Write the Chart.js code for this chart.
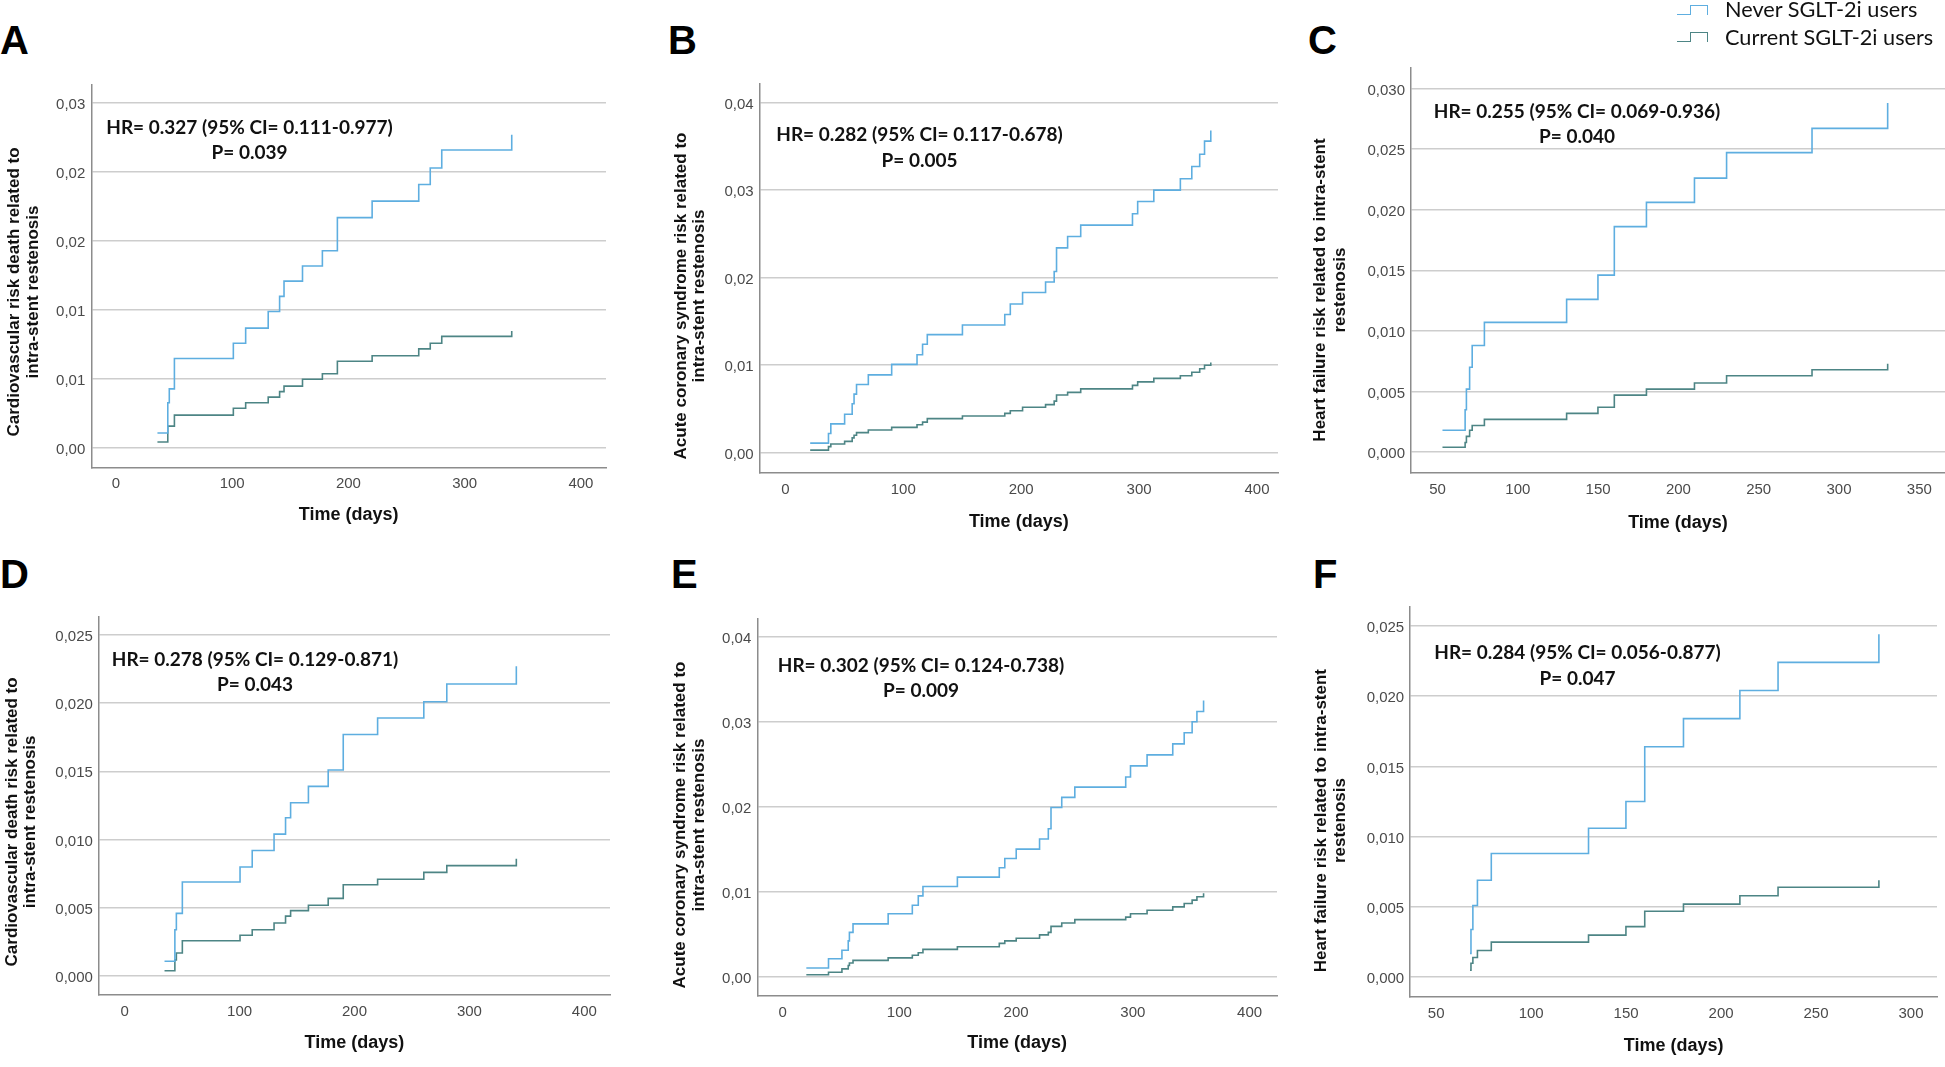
<!DOCTYPE html>
<html>
<head>
<meta charset="utf-8">
<title>SGLT-2i cumulative risk curves</title>
<script src="https://cdn.jsdelivr.net/npm/chart.js@4.4.1/dist/chart.umd.min.js"></script>
<style>
  html, body { margin: 0; padding: 0; background: #fff; }
  #page { position: relative; width: 1945px; height: 1067px; overflow: hidden; }
  canvas { position: absolute; }
  .letter { position: absolute; font: bold 40px "Liberation Sans", Arial, sans-serif; color: #000; line-height: 1; }
  #legend { position: absolute; left: 1677px; top: 0; font: 21.7px/26px Lato, sans-serif; color: #111; }
  .leg-item { position: absolute; left: 0; white-space: nowrap; }
  .leg-icon { position: absolute; left: 0; width: 30px; height: 10px; }
  .leg-icon .lo { position: absolute; left: 0; bottom: 0; width: 13px; border-bottom: 1.5px solid; }
  .leg-icon .hi { position: absolute; left: 13px; top: 0; width: 16px; height: 9px; border: 1.5px solid; border-bottom: none; }
  .leg-text { position: absolute; left: 48px; top: 0; }
</style>
</head>
<body>
<div id="page"></div>
<script>
// Cumulative risk (1 - KM) curves, never vs current SGLT-2i users

const SERIES_NAMES = ['Never SGLT-2i users', 'Current SGLT-2i users'];
const NEVER_COLOR = '#5eaee0';
const CURRENT_COLOR = '#4d8585';

// A — cardiovascular death risk
const timesA = [35.7, 44.6, 45.9, 50.3, 101.0, 111.6, 131.0, 140.8, 144.6, 160.5, 177.6, 190.5, 220.4, 260.5, 270.4, 280.3, 340.5];
const neverA = [0.0011, 0.0033, 0.0043, 0.0065, 0.0076, 0.0087, 0.0099, 0.0110, 0.0121, 0.0132, 0.0143, 0.0167, 0.0179, 0.0191, 0.0203, 0.0216, 0.0227];
const currentA = [0.00045, 0.0016, 0.0016, 0.0024, 0.0029, 0.0033, 0.0037, 0.0041, 0.0045, 0.0050, 0.0054, 0.0063, 0.0067, 0.0072, 0.0076, 0.0081, 0.0085];

// B — acute coronary syndrome risk
const timesB = [21.1, 36.6, 38.6, 50.3, 56.7, 58.3, 60.4, 70.4, 90.2, 111.7, 116.4, 120.4, 150.2, 186.1, 190.8, 201.2, 220.7, 228.0, 230.0, 239.4, 250.5, 294.4, 298.8, 312.5, 335.0, 344.7, 351.4, 355.5, 360.8];
const neverB = [0.0011, 0.0022, 0.0033, 0.0044, 0.0056, 0.0067, 0.0078, 0.0089, 0.0101, 0.0112, 0.0124, 0.0135, 0.0146, 0.0158, 0.0170, 0.0183, 0.0195, 0.0207, 0.0234, 0.0247, 0.0260, 0.0273, 0.0287, 0.0300, 0.0313, 0.0327, 0.0341, 0.0356, 0.0368];
const currentB = [0.0003, 0.0007, 0.0010, 0.0013, 0.0017, 0.0020, 0.0023, 0.0026, 0.0029, 0.0032, 0.0035, 0.0039, 0.0042, 0.0045, 0.0048, 0.0052, 0.0055, 0.0059, 0.0066, 0.0069, 0.0073, 0.0077, 0.0081, 0.0085, 0.0088, 0.0092, 0.0096, 0.0100, 0.0103];

// C — heart failure risk
const timesC = [53.1, 67.2, 68.0, 70.0, 71.6, 79.2, 130.4, 149.9, 160.1, 180.1, 210.0, 230.0, 283.2, 330.3];
const neverC = [0.0018, 0.0035, 0.0052, 0.0070, 0.0088, 0.0107, 0.0126, 0.0146, 0.0186, 0.0206, 0.0226, 0.0247, 0.0267, 0.0288];
const currentC = [0.0004, 0.0008, 0.0013, 0.0018, 0.0022, 0.0027, 0.0032, 0.0037, 0.0047, 0.0052, 0.0057, 0.0063, 0.0068, 0.0073];

// D — cardiovascular death risk (second cohort)
const timesD = [34.7, 43.7, 45.0, 50.2, 100.4, 111.0, 130.0, 140.0, 144.4, 159.9, 177.1, 190.2, 220.1, 260.3, 280.3, 340.8];
const neverD = [0.0011, 0.0034, 0.0046, 0.0069, 0.0080, 0.0092, 0.0104, 0.0116, 0.0127, 0.0139, 0.0151, 0.0177, 0.0189, 0.0201, 0.0214, 0.0227];
const currentD = [0.0004, 0.0012, 0.0017, 0.0026, 0.0030, 0.0034, 0.0039, 0.0044, 0.0048, 0.0052, 0.0057, 0.0067, 0.0071, 0.0076, 0.0081, 0.0086];

// E — acute coronary syndrome risk (second cohort)
const timesE = [20.3, 39.3, 50.8, 56.2, 57.2, 60.3, 90.4, 111.1, 116.2, 120.2, 149.7, 185.6, 190.3, 200.1, 220.1, 227.6, 229.9, 239.1, 250.3, 293.9, 298.0, 312.2, 334.2, 344.0, 350.8, 354.9, 360.6];
const neverE = [0.0010, 0.0021, 0.0031, 0.0042, 0.0052, 0.0062, 0.0074, 0.0084, 0.0095, 0.0106, 0.0117, 0.0128, 0.0139, 0.0150, 0.0162, 0.0174, 0.0199, 0.0211, 0.0223, 0.0235, 0.0248, 0.0261, 0.0274, 0.0287, 0.0300, 0.0312, 0.0325];
const currentE = [0.0002, 0.0005, 0.0009, 0.0013, 0.0016, 0.0019, 0.0022, 0.0025, 0.0028, 0.0032, 0.0035, 0.0039, 0.0042, 0.0045, 0.0049, 0.0052, 0.0059, 0.0063, 0.0067, 0.0070, 0.0074, 0.0078, 0.0082, 0.0086, 0.0090, 0.0094, 0.0098];

// F — heart failure risk (second cohort)
const timesF = [67.8, 68.3, 69.3, 71.7, 79.0, 130.2, 149.9, 159.8, 180.2, 209.9, 230.0, 283.1];
const neverF = [0.0017, 0.0034, 0.0051, 0.0069, 0.0088, 0.0106, 0.0125, 0.0164, 0.0184, 0.0204, 0.0224, 0.0244];
const currentF = [0.0005, 0.0010, 0.0014, 0.0019, 0.0025, 0.0030, 0.0036, 0.0047, 0.0052, 0.0058, 0.0064, 0.0069];

// tick values and labels
const xTicks400 = [0, 100, 200, 300, 400];
const xTicksHF_C = [50, 100, 150, 200, 250, 300, 350];
const xTicksHF_F = [50, 100, 150, 200, 250, 300];
const yTicksA = [0, 0.005, 0.01, 0.015, 0.02, 0.025];
const yLabelsA = ['0,00', '0,01', '0,01', '0,02', '0,02', '0,03'];
const yTicksACS = [0, 0.01, 0.02, 0.03, 0.04];
const yLabelsACS = ['0,00', '0,01', '0,02', '0,03', '0,04'];
const yTicksC = [0, 0.005, 0.01, 0.015, 0.02, 0.025, 0.03];
const yLabelsC = ['0,000', '0,005', '0,010', '0,015', '0,020', '0,025', '0,030'];
const yTicks025 = [0, 0.005, 0.01, 0.015, 0.02, 0.025];
const yLabels025 = ['0,000', '0,005', '0,010', '0,015', '0,020', '0,025'];

const HR_TEXT = [
  'HR= 0.327 (95% CI= 0.111-0.977)', 'HR= 0.282 (95% CI= 0.117-0.678)', 'HR= 0.255 (95% CI= 0.069-0.936)',
  'HR= 0.278 (95% CI= 0.129-0.871)', 'HR= 0.302 (95% CI= 0.124-0.738)', 'HR= 0.284 (95% CI= 0.056-0.877)',
];
const P_TEXT = ['P= 0.039', 'P= 0.005', 'P= 0.040', 'P= 0.043', 'P= 0.009', 'P= 0.047'];
const Y_TITLES = [
  ['Cardiovascular risk death related to', 'intra-stent restenosis'],
  ['Acute coronary syndrome risk related to', 'intra-stent restenosis'],
  ['Heart failure risk related to intra-stent', 'restenosis'],
  ['Cardiovascular death risk related to', 'intra-stent restenosis'],
  ['Acute coronary syndrome risk related to', 'intra-stent restenosis'],
  ['Heart failure risk related to intra-stent', 'restenosis'],
];

const panels = [
  { letter: 'A', times: timesA, never: neverA, current: currentA, xTicks: xTicks400, yTicks: yTicksA, yLabels: yLabelsA,
    xRange: [-21.2, 421.6], yRange: [-0.00138, 0.02635] },
  { letter: 'B', times: timesB, never: neverB, current: currentB, xTicks: xTicks400, yTicks: yTicksACS, yLabels: yLabelsACS,
    xRange: [-21.8, 417.8], yRange: [-0.00225, 0.0422] },
  { letter: 'C', times: timesC, never: neverC, current: currentC, xTicks: xTicksHF_C, yTicks: yTicksC, yLabels: yLabelsC,
    xRange: [33.5, 366], yRange: [-0.00168, 0.0317] },
  { letter: 'D', times: timesD, never: neverD, current: currentD, xTicks: xTicks400, yTicks: yTicks025, yLabels: yLabels025,
    xRange: [-22.4, 422.3], yRange: [-0.00136, 0.0263] },
  { letter: 'E', times: timesE, never: neverE, current: currentE, xTicks: xTicks400, yTicks: yTicksACS, yLabels: yLabelsACS,
    xRange: [-21.7, 423.5], yRange: [-0.00227, 0.0421] },
  { letter: 'F', times: timesF, never: neverF, current: currentF, xTicks: xTicksHF_F, yTicks: yTicks025, yLabels: yLabels025,
    xRange: [36.3, 313.7], yRange: [-0.00137, 0.02637] },
];

// page layout in absolute pixels: canvas box, plot area, text anchors
const LAYOUT = [
  { canvas: [0, 0, 620, 540], area: [91.3, 84.4, 606, 467.3], letter: [0, 20], yTitleX: [14.6, 33], yTitleY: 292, hr: [249.5, 127.4, 153.2], xTitleY: 515.5 },
  { canvas: [660, 0, 620, 540], area: [759.6, 83.3, 1278, 472.5], letter: [668, 20], yTitleX: [681.7, 699.5], yTitleY: 296, hr: [919.5, 135, 160.8], xTitleY: 521.7 },
  { canvas: [1300, 0, 645, 540], area: [1411, 67.8, 1945, 472.5], letter: [1308, 20], yTitleX: [1320.6, 1340.3], yTitleY: 290, hr: [1577, 112, 137], xTitleY: 523.4 },
  { canvas: [0, 555, 620, 512], area: [98.9, 617, 610, 994.8], letter: [0, 554], yTitleX: [11.9, 30.8], yTitleY: 821.9, hr: [255, 659.5, 685], xTitleY: 1043 },
  { canvas: [660, 555, 620, 512], area: [757.3, 619, 1277, 995.8], letter: [671, 554], yTitleX: [680.6, 699.5], yTitleY: 825, hr: [921, 666, 690.5], xTitleY: 1043.2 },
  { canvas: [1300, 555, 645, 512], area: [1410.2, 606.6, 1937, 996.5], letter: [1313, 554], yTitleX: [1321.4, 1340.3], yTitleY: 820.6, hr: [1577.5, 653, 679], xTitleY: 1045.8 },
];

const TICK_FONT = { family: '"Liberation Sans", Arial, sans-serif', size: 15 };
const TICK_COLOR = '#4a4a4a';
const GRID_COLOR = '#cdcdcd';
const AXIS_COLOR = '#8c8c8c';

/** Draws the rotated y-axis title and the HR / P annotation. */
const panelText = {
  id: 'panelText',
  afterDraw(chart, args, opts) {
    const ctx = chart.ctx;
    ctx.save();
    ctx.fillStyle = '#111';
    ctx.textAlign = 'center';
    ctx.textBaseline = 'middle';
    ctx.font = 'bold 17px "Liberation Sans", Arial, sans-serif';
    opts.yTitle.forEach((line, i) => {
      ctx.save();
      ctx.translate(opts.yTitleX[i], opts.yTitleY);
      ctx.rotate(-Math.PI / 2);
      ctx.fillText(line, 0, 0);
      ctx.restore();
    });
    ctx.font = 'bold 19px Lato, sans-serif';
    ctx.fillText(opts.hr, opts.hrX, opts.hrY[0]);
    ctx.fillText(opts.p, opts.hrX, opts.hrY[1]);
    ctx.restore();
  },
};

function kmPoints(times, values) {
  return times.map((t, i) => ({ x: t, y: values[i] }));
}

function buildPanel(p, idx) {
  const L = LAYOUT[idx];
  const [cx, cy, cw, ch] = L.canvas;
  const [al, at, ar, ab] = L.area;
  const page = document.getElementById('page');

  const letter = document.createElement('div');
  letter.className = 'letter';
  letter.textContent = p.letter;
  letter.style.left = L.letter[0] + 'px';
  letter.style.top = L.letter[1] + 'px';
  page.appendChild(letter);

  const canvas = document.createElement('canvas');
  canvas.width = cw;
  canvas.height = ch;
  canvas.style.left = cx + 'px';
  canvas.style.top = cy + 'px';
  canvas.style.width = cw + 'px';
  canvas.style.height = ch + 'px';
  page.appendChild(canvas);

  const xScaleH = cy + ch - ab;
  const xTitleLH = 18 * 1.2;
  const xTitlePad = (cy + ch) - L.xTitleY - xTitleLH / 2;

  const line = (label, values, color) => ({
    label,
    data: kmPoints(p.times, values),
    borderColor: color,
    backgroundColor: color,
    borderWidth: 1.6,
    stepped: true,
    pointRadius: 0,
    fill: false,
  });

  new Chart(canvas, {
    type: 'line',
    data: {
      datasets: [
        line(SERIES_NAMES[0], p.never, NEVER_COLOR),
        line(SERIES_NAMES[1], p.current, CURRENT_COLOR),
      ],
    },
    options: {
      responsive: false,
      animation: false,
      devicePixelRatio: 1,
      layout: { padding: { left: 0, top: at - cy, right: cx + cw - ar, bottom: 0 } },
      plugins: {
        legend: { display: false },
        tooltip: { enabled: false },
        panelText: {
          yTitle: Y_TITLES[idx],
          yTitleX: L.yTitleX.map(v => v - cx),
          yTitleY: L.yTitleY - cy,
          hr: HR_TEXT[idx],
          p: P_TEXT[idx],
          hrX: L.hr[0] - cx,
          hrY: [L.hr[1] - cy, L.hr[2] - cy],
        },
      },
      scales: {
        x: {
          type: 'linear',
          min: p.xRange[0],
          max: p.xRange[1],
          afterBuildTicks: s => { s.ticks = p.xTicks.map(v => ({ value: v })); },
          afterFit: s => { s.height = xScaleH; },
          ticks: { callback: v => String(v), font: TICK_FONT, color: TICK_COLOR, padding: 8, maxRotation: 0, autoSkip: false },
          grid: { display: false, drawTicks: false },
          border: { display: true, color: AXIS_COLOR, width: 1.5 },
          title: {
            display: true,
            text: 'Time (days)',
            color: '#111',
            font: { family: '"Liberation Sans", Arial, sans-serif', size: 18, weight: 'bold', lineHeight: 1.2 },
            padding: { top: 0, bottom: xTitlePad },
          },
        },
        y: {
          type: 'linear',
          min: p.yRange[0],
          max: p.yRange[1],
          afterBuildTicks: s => { s.ticks = p.yTicks.map(v => ({ value: v })); },
          afterFit: s => { s.width = al - cx; },
          ticks: { callback: (v, i) => p.yLabels[i], font: TICK_FONT, color: TICK_COLOR, padding: 6, labelOffset: 2 },
          grid: { color: GRID_COLOR, lineWidth: 1.5, drawTicks: false },
          border: { display: true, color: AXIS_COLOR, width: 1.5 },
        },
      },
    },
    plugins: [panelText],
  });
}

function buildLegend() {
  const page = document.getElementById('page');
  const legend = document.createElement('div');
  legend.id = 'legend';
  const colors = [NEVER_COLOR, CURRENT_COLOR];
  const tops = [-4, 24];
  const iconTops = [9, 7.7];
  SERIES_NAMES.forEach((name, i) => {
    const item = document.createElement('div');
    item.className = 'leg-item';
    item.style.top = tops[i] + 'px';
    item.innerHTML = '<div class="leg-icon" style="top:' + iconTops[i] + 'px;color:' + colors[i] + '">' +
      '<div class="lo"></div><div class="hi"></div></div>' +
      '<span class="leg-text">' + name + '</span>';
    legend.appendChild(item);
  });
  page.appendChild(legend);
}

panels.forEach(buildPanel);
buildLegend();
</script>
</body>
</html>
